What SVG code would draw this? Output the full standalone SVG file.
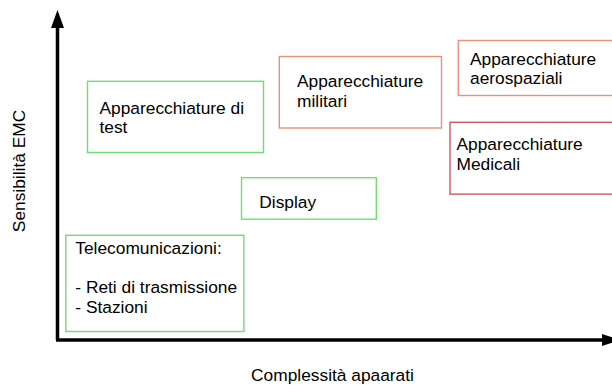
<svg xmlns="http://www.w3.org/2000/svg" width="612" height="385" viewBox="0 0 612 385">
<style>
text{font-family:"Liberation Sans",Arial,sans-serif;font-size:17.33px;fill:#000}
.g{fill:#fff;stroke:#73dc73;stroke-width:1.4}
.o{fill:#fff;stroke:#e5937a;stroke-width:1.4}
.r{fill:#fff;stroke:#cb5a5a;stroke-width:1.4}
.ax{stroke:#000;stroke-width:3.5;fill:none}
</style>
<rect width="612" height="385" fill="#fff"/>
<g id="axes">
<path class="ax" d="M57.5,340 V26"/>
<path d="M57.5,10 L51,28 L64,28 Z" fill="#000"/>
<path class="ax" d="M56,340 H603"/>
<path d="M620,340 L602,334 L602,346 Z" fill="#000"/>
<text x="0" y="0" transform="translate(25,171) rotate(-90)" text-anchor="middle">Sensibilità EMC</text>
<text x="332.5" y="381" text-anchor="middle">Complessità apaarati</text>
</g>
<g id="test">
<rect class="g" x="87.5" y="81.3" width="176" height="71.2"/>
<text x="99.5" y="113.5">Apparecchiature di</text>
<text x="99.5" y="133">test</text>
</g>
<g id="militari">
<rect class="o" x="279.3" y="56.5" width="162.2" height="71.5"/>
<text x="297" y="87">Apparecchiature</text>
<text x="297" y="106.5">militari</text>
</g>
<g id="aerospaziali">
<rect class="o" x="458.3" y="40.5" width="155" height="55"/>
<text x="470" y="64.5">Apparecchiature</text>
<text x="470" y="84">aerospaziali</text>
</g>
<g id="medicali">
<rect class="r" x="450" y="122.3" width="163" height="71.8"/>
<text x="456.5" y="150">Apparecchiature</text>
<text x="456.5" y="169.5">Medicali</text>
</g>
<g id="display">
<rect class="g" x="241.5" y="177.7" width="134.8" height="41.5"/>
<text x="259.3" y="207.5">Display</text>
</g>
<g id="telecom">
<rect class="g" x="65.8" y="235.3" width="178" height="96.2"/>
<text x="75.3" y="254">Telecomunicazioni:</text>
<text x="75.3" y="293.3">- Reti di trasmissione</text>
<text x="75.3" y="312.5">- Stazioni</text>
</g>
</svg>
